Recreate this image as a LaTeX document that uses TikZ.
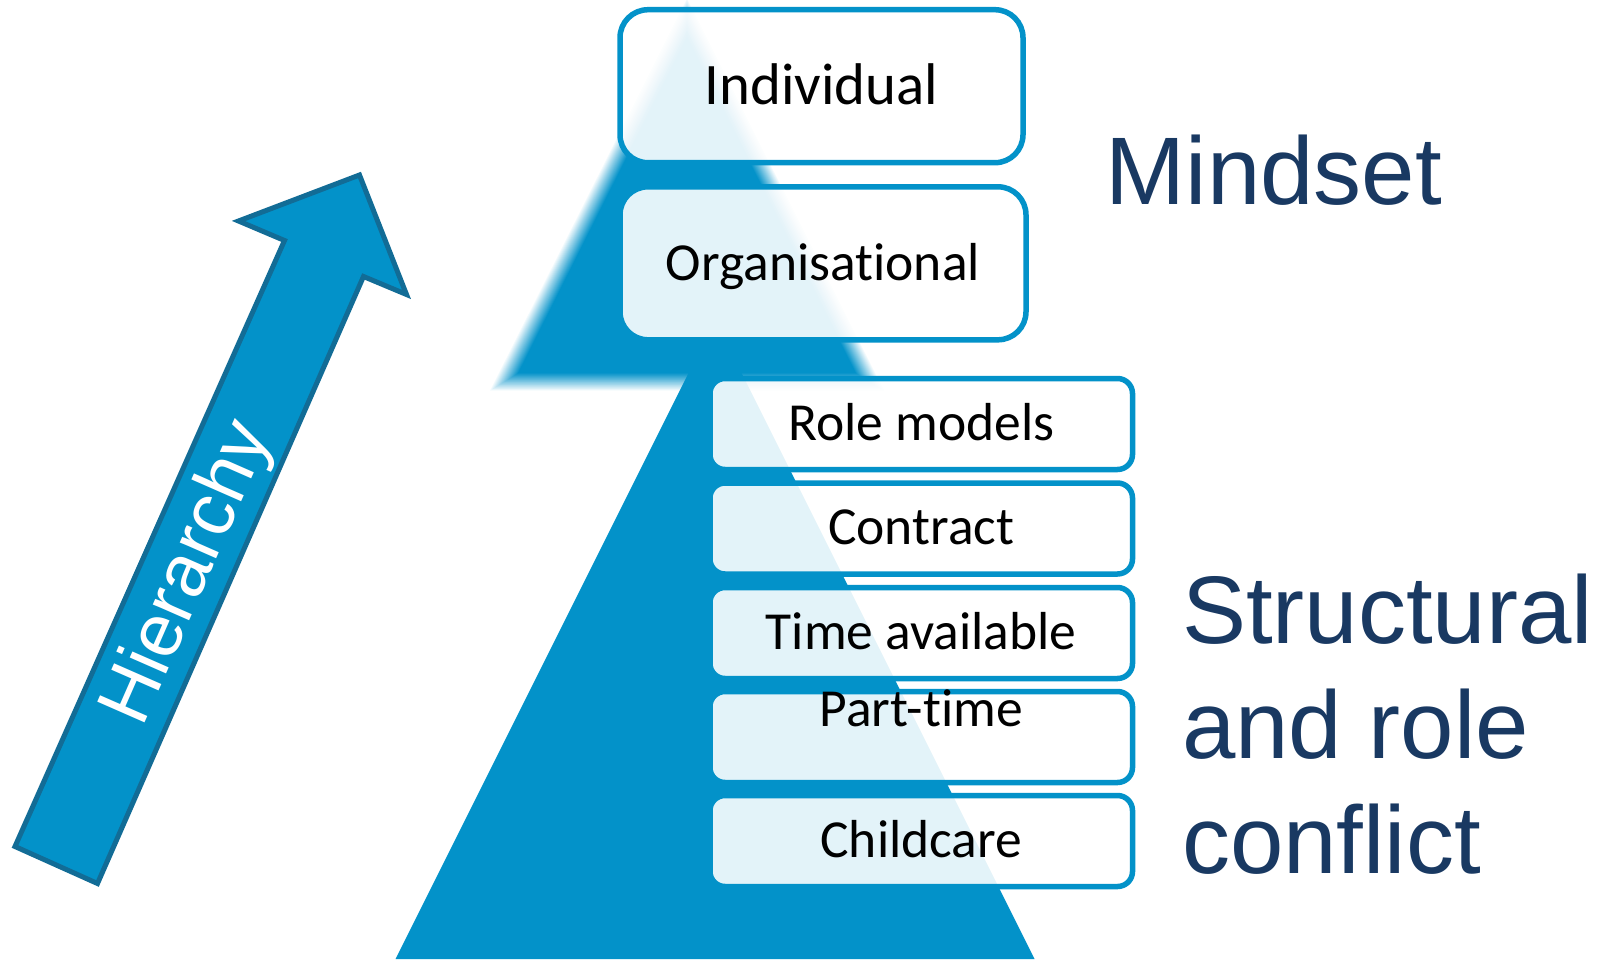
\documentclass[tikz,border=0pt]{standalone}
\usepackage{fontspec}
\setmainfont{Liberation Sans}[Ligatures=NoCommon]
\newfontfamily\boxfont{Carlito}[Ligatures=NoCommon]
\usetikzlibrary{calc}
\definecolor{triblue}{RGB}{3,146,201}
\definecolor{arrowedge}{RGB}{18,108,150}
\definecolor{navy}{RGB}{25,57,98}
\begin{document}
\begin{tikzpicture}[x=1pt,y=-1pt,
  panel/.style={draw=triblue, line width=5.5pt, fill=white, fill opacity=0.89,
                text opacity=1, inner sep=0pt},
  bigbox/.style={panel, minimum height=153pt, rounded corners=28pt},
  smallbox/.style={panel, minimum width=422.5pt, minimum height=91pt, rounded corners=15pt},
  boxtext/.style={anchor=base, inner sep=0pt, text=black},
  smalltext/.style={boxtext, font=\boxfont\fontsize{53.5}{64}\selectfont},
  heading/.style={anchor=base west, inner sep=0pt, text=navy, font=\fontsize{96}{115}\selectfont},
]
\useasboundingbox (0,0) rectangle (1604,959);

% lower pyramid, sharp edges
\coordinate (bA) at (715,320);
\coordinate (bL) at (395.5,959);
\coordinate (bR) at (1034.5,959);
\fill[triblue] (bA) -- (bL) -- (bR) -- cycle;

% upper pyramid with soft edges: stacked copies scaled about the incentre
\coordinate (tA) at (687,18);
\coordinate (tB) at (504,382);
\coordinate (tC) at (870,382);
\coordinate (tI) at (687,269.2);
\foreach \k in {1,...,20}{
  \pgfmathsetmacro{\blurscale}{1+(9/112.8)*(1-(2*\k-1)/20)}
  \pgfmathsetmacro{\bluralpha}{1/(21-\k)}
  \fill[triblue, fill opacity=\bluralpha]
    ($(tI)!\blurscale!(tA)$) -- ($(tI)!\blurscale!(tB)$) -- ($(tI)!\blurscale!(tC)$) -- cycle;
}

% hierarchy arrow
\coordinate (tip) at (359.5,175);
\coordinate (barbR) at (406.5,294.5);
\coordinate (notchR) at (363.5,276.5);
\coordinate (tailR) at (97.5,883.5);
\coordinate (tailL) at (15,846.5);
\coordinate (notchL) at (284.5,240.5);
\coordinate (barbL) at (238.5,221);
\draw[fill=triblue, draw=arrowedge, line width=5pt, line join=miter]
  (tip) -- (barbR) -- (notchR) -- (tailR) -- (tailL) -- (notchL) -- (barbL) -- cycle;
\node[rotate=66.3, anchor=base west, inner sep=0pt, text=white,
      font=\fontsize{75}{90}\selectfont] (hier) at (142.6,728.2) {Hierarchy};

% mindset boxes
\node[bigbox, minimum width=403pt] (ind) at (821.5,86.2) {};
\node[bigbox, minimum width=406pt] (org) at (823,263.3) {};
\node[boxtext, font=\boxfont\fontsize{58.8}{70}\selectfont] (indt) at ([yshift=-18pt]ind.center) {Individual};
\node[boxtext, font=\boxfont\fontsize{53.5}{64}\selectfont] (orgt) at ([yshift=-17pt]org.center) {Organisational};

% structural boxes
\node[smallbox] (rm) at (921.25,424) {};
\node[smallbox] (ct) at (921.25,528.5) {};
\node[smallbox] (ta) at (921.25,633) {};
\node[smallbox] (pt) at (921.25,737) {};
\node[smallbox] (cc) at (921.25,841) {};
\node[smalltext] (rmt) at ([yshift=-16pt]rm.center) {Role models};
\node[smalltext] (ctt) at ([yshift=-16pt]ct.center) {Contract};
\node[smalltext] (tat) at ([yshift=-16pt]ta.center) {Time available};
\node[smalltext] (ptt) at ([yshift=11pt]pt.center) {Part-time};
\node[smalltext] (cct) at ([yshift=-16pt]cc.center) {Childcare};

% side headings
\node[heading] (mind) at (1105.6,204.3) {Mindset};
\node[heading] (str1) at (1182,643.3) {Structural};
\node[heading] (str2) at (1182,758.3) {and role};
\node[heading] (str3) at (1182,873.3) {conflict};
\end{tikzpicture}
\end{document}
